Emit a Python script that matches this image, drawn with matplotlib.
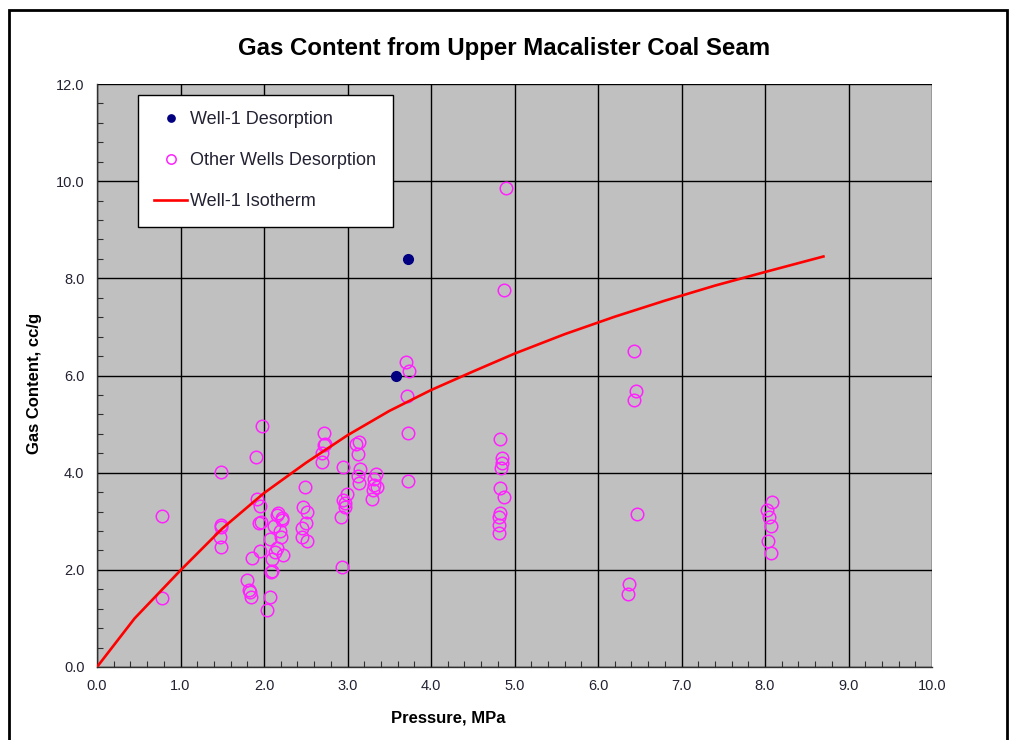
import numpy as np
import matplotlib.pyplot as plt
from matplotlib.patches import Rectangle
from matplotlib.ticker import MultipleLocator, FormatStrFormatter

plt.rcParams['font.family'] = ['Liberation Sans', 'DejaVu Sans']

# Well-1 desorption points (pressure MPa, gas content cc/g)
well1_p = [3.72, 3.58]
well1_gc = [8.40, 6.00]

# Other wells desorption points
other_p = [0.78, 0.78, 1.49, 1.48, 1.49, 1.47, 1.48,
           1.91, 1.98, 1.92, 1.95, 1.96, 1.94, 1.95, 1.86, 1.80, 1.82, 1.83, 1.84,
           2.07, 2.03, 2.07, 2.09, 2.10, 2.08, 2.12, 2.15, 2.13, 2.17, 2.15, 2.21,
           2.19, 2.23, 2.21, 2.20,
           2.47, 2.51, 2.49, 2.50, 2.45, 2.46, 2.52,
           2.72, 2.72, 2.70, 2.70, 2.73,
           2.95, 2.99, 2.95, 2.97, 2.97, 2.92, 2.93,
           3.14, 3.10, 3.12, 3.15, 3.12, 3.14,
           3.34, 3.32, 3.32, 3.35, 3.30, 3.29,
           3.70, 3.74, 3.71, 3.72, 3.72,
           4.90, 4.87, 4.83, 4.85, 4.85, 4.84, 4.83, 4.87, 4.83, 4.81, 4.81, 4.82,
           6.43, 6.45, 6.43, 6.47, 6.37, 6.36,
           8.08, 8.02, 8.05, 8.07, 8.04, 8.07]
other_gc = [3.11, 1.42, 4.01, 2.92, 2.89, 2.68, 2.47,
            4.32, 4.97, 3.46, 3.31, 2.99, 2.97, 2.39, 2.25, 1.80, 1.58, 1.55, 1.45,
            1.45, 1.17, 2.63, 2.22, 1.98, 1.96, 2.90, 2.44, 2.37, 3.17, 3.13, 3.06,
            2.80, 2.30, 3.02, 2.67,
            3.29, 3.20, 3.70, 2.96, 2.87, 2.68, 2.59,
            4.82, 4.57, 4.40, 4.22, 4.60,
            4.12, 3.56, 3.44, 3.37, 3.29, 3.08, 2.05,
            4.64, 4.58, 4.39, 4.07, 3.93, 3.78,
            3.98, 3.86, 3.74, 3.71, 3.64, 3.46,
            6.28, 6.09, 5.58, 4.82, 3.83,
            9.85, 7.76, 4.70, 4.31, 4.19, 4.10, 3.68, 3.50, 3.16, 3.09, 2.92, 2.76,
            6.50, 5.69, 5.49, 3.14, 1.71, 1.50,
            3.40, 3.24, 3.08, 2.91, 2.60, 2.34]

# Well-1 isotherm
iso_p = [0.0, 0.45, 1.0, 1.5, 2.0, 2.5, 3.0, 3.5, 4.0, 4.5, 5.0, 5.6, 6.2, 6.8, 7.4, 8.0, 8.7]
iso_gc = [0.0, 1.00, 1.99, 2.85, 3.58, 4.20, 4.77, 5.27, 5.70, 6.08, 6.45, 6.85, 7.21, 7.54, 7.85, 8.13, 8.45]

fig = plt.figure(figsize=(10.11, 7.40), dpi=100)
ax = fig.add_axes([97 / 1011, 73 / 740, 835 / 1011, 583 / 740])
ax.set_facecolor('#C0C0C0')

ax.plot(well1_p, well1_gc, 'o', color='#000080', ms=7, zorder=4,
        label='Well-1 Desorption')
ax.plot(other_p, other_gc, 'o', mfc='none', mec='#FF22FF', mew=1.1, ms=9,
        zorder=3, label='Other Wells Desorption')
ax.plot(iso_p, iso_gc, '-', color='#FF0000', lw=1.9, zorder=5,
        label='Well-1 Isotherm')

ax.set_xlim(0, 10)
ax.set_ylim(0, 12)
ax.xaxis.set_major_locator(MultipleLocator(1.0))
ax.yaxis.set_major_locator(MultipleLocator(2.0))
ax.xaxis.set_minor_locator(MultipleLocator(0.2))
ax.yaxis.set_minor_locator(MultipleLocator(0.4))
ax.xaxis.set_major_formatter(FormatStrFormatter('%.1f'))
ax.yaxis.set_major_formatter(FormatStrFormatter('%.1f'))
ax.grid(True, which='major', color='#000000', lw=1.0, zorder=1)
ax.set_axisbelow(True)

ax.tick_params(which='both', direction='in', colors='#303030',
               labelcolor='#222233', labelsize=10.5)
ax.tick_params(which='major', length=0, pad=9)
ax.tick_params(which='minor', length=4, width=0.8)
for s in ['top', 'right']:
    ax.spines[s].set_visible(False)
for s in ['left', 'bottom']:
    ax.spines[s].set_color('#303030')
    ax.spines[s].set_linewidth(1.0)

fig.text(504 / 1011, 1 - 48 / 740, 'Gas Content from Upper Macalister Coal Seam',
         ha='center', va='center', fontsize=17.3, fontweight='bold')
fig.text(448 / 1011, 1 - 718 / 740, 'Pressure, MPa', ha='center', va='center',
         fontsize=12, fontweight='bold')
fig.text(35 / 1011, 1 - 383 / 740, 'Gas Content, cc/g', ha='center', va='center',
         rotation=90, fontsize=12, fontweight='bold')

leg = ax.legend(loc='upper left', bbox_to_anchor=(41 / 835, 572 / 583),
                borderaxespad=0, fontsize=13, frameon=True, fancybox=False,
                handlelength=1.8, handletextpad=0.2, labelspacing=1.33,
                borderpad=0.9, markerscale=0.75)
leg.get_frame().set_edgecolor('#000000')
leg.get_frame().set_linewidth(1.0)
leg.get_frame().set_facecolor('white')
leg.get_frame().set_alpha(1)
for t in leg.get_texts():
    t.set_color('#222233')

fig.patches.append(Rectangle((9 / 1011, -0.05), 998 / 1011, 1.05 - 10 / 740,
                             transform=fig.transFigure, fill=False,
                             edgecolor='black', lw=2))

fig.savefig('out.png', dpi=100)
